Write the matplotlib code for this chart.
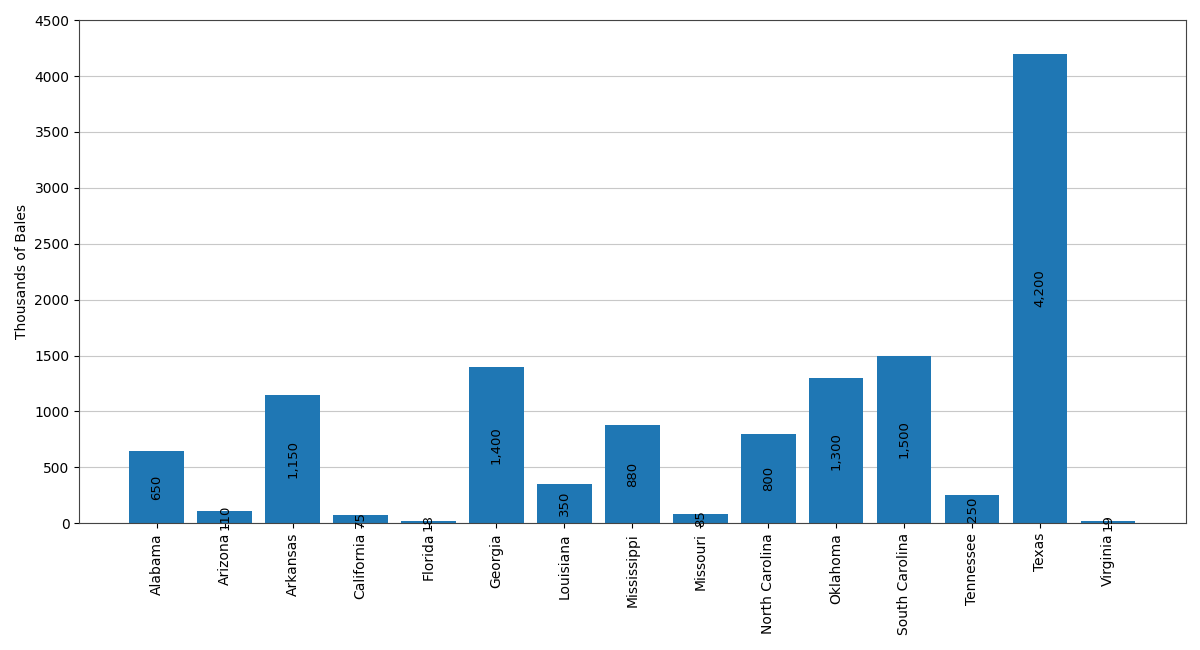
import matplotlib
matplotlib.use("Agg")
import matplotlib.pyplot as plt

states = ["Alabama", "Arizona", "Arkansas", "California", "Florida", "Georgia",
          "Louisiana", "Mississippi", "Missouri", "North Carolina", "Oklahoma",
          "South Carolina", "Tennessee", "Texas", "Virginia"]
bales = [650, 110, 1150, 75, 18, 1400, 350, 880, 85, 800, 1300, 1500, 250, 4200, 19]

fig, ax = plt.subplots(figsize=(12, 6.5), dpi=100)
bars = ax.bar(states, bales, color="#1f77b4", zorder=2)
ax.bar_label(bars, labels=[f"{v:,}" for v in bales], label_type="center",
             rotation=90, fontsize=9.5)
ax.set_ylabel("Thousands of Bales")
ax.set_ylim(0, 4500)
ax.yaxis.grid(True, color="#c8c8c8", zorder=0)
ax.set_axisbelow(True)
for sp in ax.spines.values():
    sp.set_color("#444444")
plt.xticks(rotation=90)
fig.subplots_adjust(left=0.066, right=0.988, top=0.969, bottom=0.195)
fig.savefig("out.png")
